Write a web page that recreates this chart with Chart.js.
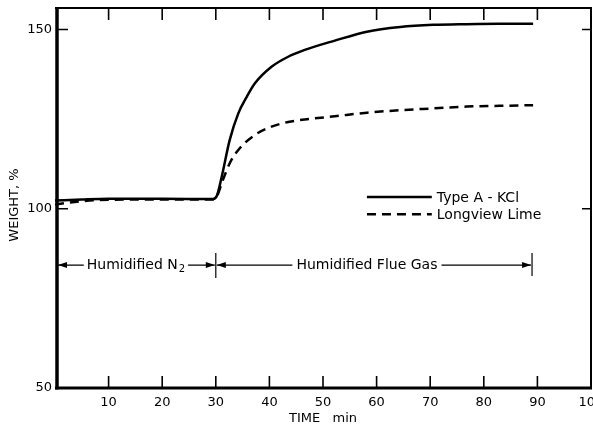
<!DOCTYPE html>
<html><head><meta charset="utf-8">
<script src="https://cdn.jsdelivr.net/npm/chart.js@4/dist/chart.umd.min.js"></script>
<style>html,body{margin:0;padding:0;background:#fff}#wrap{width:593px;height:427px}</style>
</head><body><div id="wrap"><canvas id="c" width="593" height="427"></canvas></div>
<script>
// ---- data ----
const timeKCl   = [0, 5, 10, 20, 29.5, 30.2, 31.1, 32.6, 34.2, 35.8, 37.3, 40.4, 43.5, 46.6, 52.2, 58.2, 64.4, 70.6, 76.8, 83, 89.2];
const weightKCl = [102.3, 102.6, 102.8, 102.8, 102.7, 103.6, 108.9, 119.2, 126.6, 131.3, 135, 139.6, 142.4, 144.3, 146.9, 149.4, 150.7, 151.3, 151.5, 151.6, 151.6];
const timeLime   = [0, 5, 10, 20, 29.5, 30.3, 31.1, 32.6, 34.2, 37.3, 40.4, 43.5, 46.6, 52.2, 58.2, 64.4, 70.6, 76.8, 83, 89.2];
const weightLime = [101.2, 102.1, 102.5, 102.6, 102.6, 103.8, 107.1, 112.7, 116.4, 120.6, 122.9, 124.2, 124.9, 125.8, 126.8, 127.5, 128.0, 128.5, 128.7, 128.9];
const seriesLabels = ['Type A - KCl', 'Longview Lime'];
const xTickValues = [0, 10, 20, 30, 40, 50, 60, 70, 80, 90, 100];
const yTickValues = [50, 100, 150];
const phaseLabels = ['Humidified N', 'Humidified Flue Gas'];
const phaseBounds = [0, 30, 89];
const phaseLevel = 84.3;
const xTitle = 'TIME   min';
const yTitle = 'WEIGHT, %';

const FONT = '"DejaVu Sans", sans-serif';
const toPts = (xs, ys) => xs.map((x, i) => ({x, y: ys[i]}));

const decor = {
  id: 'decor',
  afterDraw(chart) {
    const ctx = chart.ctx, xs = chart.scales.x, ys = chart.scales.y;
    const a = chart.chartArea;
    ctx.save();
    ctx.strokeStyle = '#000'; ctx.fillStyle = '#000';
    // frame
    ctx.lineWidth = 2;
    ctx.beginPath();
    ctx.moveTo(a.left, a.top); ctx.lineTo(a.right, a.top); ctx.lineTo(a.right, a.bottom);
    ctx.stroke();
    ctx.lineWidth = 3.5;
    ctx.beginPath(); ctx.moveTo(a.left + 2, a.top - 1); ctx.lineTo(a.left + 2, a.bottom + 1.5); ctx.stroke();
    ctx.lineWidth = 3;
    ctx.beginPath(); ctx.moveTo(a.left, a.bottom); ctx.lineTo(a.right + 1, a.bottom); ctx.stroke();
    // inward ticks
    ctx.lineWidth = 1.6;
    ctx.beginPath();
    xTickValues.forEach(v => {
      if (v <= xs.min || v >= xs.max) return;
      const px = xs.getPixelForValue(v);
      ctx.moveTo(px, a.bottom); ctx.lineTo(px, a.bottom - 12);
      ctx.moveTo(px, a.top); ctx.lineTo(px, a.top + 12);
    });
    yTickValues.forEach(v => {
      if (v <= ys.min) return;
      const py = ys.getPixelForValue(v);
      ctx.moveTo(a.left + 3, py); ctx.lineTo(a.left + 13, py);
      ctx.moveTo(a.right, py); ctx.lineTo(a.right - 9, py);
    });
    ctx.stroke();

    // legend
    const ds = chart.data.datasets;
    const lx0 = xs.getPixelForValue(58.2), lx1 = xs.getPixelForValue(70.3);
    const lys = [ys.getPixelForValue(103.3), ys.getPixelForValue(98.5)];
    ctx.font = '14px ' + FONT; ctx.textBaseline = 'middle'; ctx.textAlign = 'left';
    ds.forEach((d, i) => {
      ctx.lineWidth = 2.5;
      ctx.setLineDash(d.borderDash || []);
      ctx.beginPath(); ctx.moveTo(lx0, lys[i]); ctx.lineTo(lx1, lys[i]); ctx.stroke();
      ctx.setLineDash([]);
      ctx.fillText(d.label, lx1 + 5, lys[i] + 1);
    });

    // phase annotations
    const py = ys.getPixelForValue(phaseLevel);
    const p0 = xs.getPixelForValue(phaseBounds[0]) + 3, p1 = xs.getPixelForValue(phaseBounds[1]), p2 = xs.getPixelForValue(phaseBounds[2]);
    const arrow = (x, dir) => {
      ctx.beginPath(); ctx.moveTo(x, py); ctx.lineTo(x - dir * 9, py - 3); ctx.lineTo(x - dir * 9, py + 3); ctx.closePath(); ctx.fill();
    };
    ctx.lineWidth = 1.2;
    ctx.beginPath();
    ctx.moveTo(p1, py - 12); ctx.lineTo(p1, py + 13);
    ctx.moveTo(p2, py - 12); ctx.lineTo(p2, py + 11);
    ctx.stroke();
    ctx.font = '14px ' + FONT; ctx.textBaseline = 'middle'; ctx.textAlign = 'left';
    const t1 = phaseLabels[0];
    const w1 = ctx.measureText(t1).width;
    ctx.font = '10px ' + FONT; const ws = ctx.measureText('2').width; ctx.font = '14px ' + FONT;
    const tw1 = w1 + ws + 1;
    const c1 = (p0 + p1) / 2 - 1;
    const s1 = c1 - tw1 / 2, e1 = c1 + tw1 / 2;
    ctx.beginPath(); ctx.moveTo(p0, py); ctx.lineTo(s1 - 3, py); ctx.moveTo(e1 + 3, py); ctx.lineTo(p1 - 1, py); ctx.stroke();
    arrow(p0, -1); arrow(p1 - 1, 1);
    ctx.fillText(t1, s1, py);
    ctx.font = '10px ' + FONT; ctx.fillText('2', s1 + w1 + 1, py + 4);
    ctx.font = '14px ' + FONT;
    const t2 = phaseLabels[1];
    const w2 = ctx.measureText(t2).width;
    const c2 = (p1 + p2) / 2 - 7;
    const s2 = c2 - w2 / 2, e2 = c2 + w2 / 2;
    ctx.beginPath(); ctx.moveTo(p1 + 1, py); ctx.lineTo(s2 - 4, py); ctx.moveTo(e2 + 4, py); ctx.lineTo(p2 - 1, py); ctx.stroke();
    arrow(p1 + 1, -1); arrow(p2 - 1, 1);
    ctx.fillText(t2, s2, py);

    // axis titles
    ctx.font = '13px ' + FONT; ctx.textAlign = 'center'; ctx.textBaseline = 'middle';
    ctx.fillText(xTitle, (a.left + a.right) / 2, 419);
    ctx.save(); ctx.translate(15, 205); ctx.rotate(-Math.PI / 2); ctx.fillText(yTitle, 0, 0); ctx.restore();
    ctx.restore();
  }
};

new Chart(document.getElementById('c'), {
  type: 'scatter',
  data: {
    datasets: [
      { label: seriesLabels[0], data: toPts(timeKCl, weightKCl), showLine: true, borderColor: '#000', backgroundColor: '#000',
        borderWidth: 2.5, pointRadius: 0, cubicInterpolationMode: 'monotone' },
      { label: seriesLabels[1], data: toPts(timeLime, weightLime), showLine: true, borderColor: '#000', backgroundColor: '#000',
        borderWidth: 2.5, borderDash: [9, 6], pointRadius: 0, cubicInterpolationMode: 'monotone' }
    ]
  },
  options: {
    responsive: false, animation: false,
    layout: { padding: { top: 8, right: 2, left: 0, bottom: 0 } },
    plugins: { legend: { display: false }, tooltip: { enabled: false } },
    scales: {
      x: {
        type: 'linear', min: 0, max: 100,
        grid: { display: false, drawTicks: false, tickLength: 0 }, border: { display: false },
        afterBuildTicks: s => { s.ticks = xTickValues.map(v => ({value: v})); },
        afterFit: s => { s.height = 39; s.paddingLeft = 0; s.paddingRight = 0; },
        ticks: { color: '#000', font: { family: FONT, size: 13 }, padding: 7, maxRotation: 0, autoSkip: false,
                 callback: v => v === 0 ? '' : String(v) }
      },
      y: {
        type: 'linear', min: 50, max: 156,
        grid: { display: false, drawTicks: false, tickLength: 0 }, border: { display: false },
        afterBuildTicks: s => { s.ticks = yTickValues.map(v => ({value: v})); },
        afterFit: s => { s.width = 55; s.paddingTop = 0; s.paddingBottom = 0; },
        ticks: { color: '#000', font: { family: FONT, size: 13 }, padding: 3, callback: v => String(v) }
      }
    }
  },
  plugins: [decor]
});
</script>
</body></html>
